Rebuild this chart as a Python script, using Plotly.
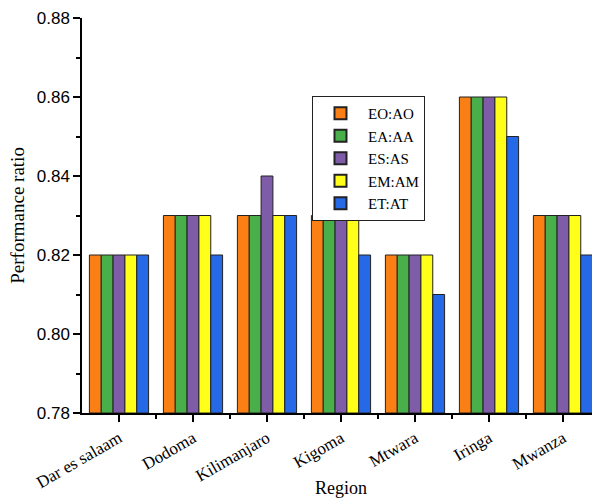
import plotly.graph_objects as go

regions = ["Dar es salaam", "Dodoma", "Kilimanjaro", "Kigoma", "Mtwara", "Iringa", "Mwanza"]
series_names = ["EO:AO", "EA:AA", "ES:AS", "EM:AM", "ET:AT"]
eo_ao = [0.82, 0.83, 0.83, 0.83, 0.82, 0.86, 0.83]
ea_aa = [0.82, 0.83, 0.83, 0.83, 0.82, 0.86, 0.83]
es_as = [0.82, 0.83, 0.84, 0.83, 0.82, 0.86, 0.83]
em_am = [0.82, 0.83, 0.83, 0.83, 0.82, 0.86, 0.83]
et_at = [0.82, 0.82, 0.83, 0.82, 0.81, 0.85, 0.82]
colors = ["#FA7F14", "#49AF4A", "#7F5CA8", "#FFFF1A", "#2569E6"]
baseline = 0.78

serif = "Liberation Serif"
sans = "Liberation Sans"

fig = go.Figure()
for name, vals, c in zip(series_names, [eo_ao, ea_aa, es_as, em_am, et_at], colors):
    fig.add_trace(go.Bar(
        name=name, x=regions, y=[v - baseline for v in vals], base=baseline,
        marker=dict(color=c, line=dict(color="#222222", width=1)),
    ))

fig.update_layout(
    width=592, height=491,
    margin=dict(l=74, r=0, t=10, b=86),
    plot_bgcolor="white", paper_bgcolor="white",
    barmode="group", bargap=0.2, bargroupgap=0,
    showlegend=True,
    legend=dict(
        x=0.444, y=0.8025, xanchor="left", yanchor="top",
        bordercolor="#222222", borderwidth=1, bgcolor="white",
        font=dict(family=serif, size=15, color="black"),
        tracegroupgap=0, itemsizing="constant", itemwidth=45,
    ),
    xaxis=dict(
        range=[-0.5, 6.5], automargin=False,
        showline=True, linecolor="black", linewidth=1.5,
        ticks="outside", ticklen=7, tickwidth=1.5, tickcolor="black",
        tickangle=-30,
        tickfont=dict(family=serif, size=17, color="black"),
        minor=dict(ticks="outside", ticklen=4, tickwidth=1.5, tickcolor="black",
                   tickmode="array", tickvals=[0.5, 1.5, 2.5, 3.5, 4.5, 5.5]),
        showgrid=False,
    ),
    yaxis=dict(
        range=[0.78, 0.88], automargin=False,
        showline=True, linecolor="black", linewidth=1.5,
        ticks="outside", ticklen=7, tickwidth=1.5, tickcolor="black",
        tickmode="array",
        tickvals=[0.78, 0.80, 0.82, 0.84, 0.86, 0.88],
        ticktext=["0.78", "0.80", "0.82", "0.84", "0.86", "0.88"],
        tickfont=dict(family=sans, size=17, color="black"),
        minor=dict(ticks="outside", ticklen=4, tickwidth=1.5, tickcolor="black",
                   tickmode="array", tickvals=[0.79, 0.81, 0.83, 0.85, 0.87]),
        showgrid=False, zeroline=False,
    ),
    annotations=[
        dict(text="Region", xref="paper", yref="paper", x=0.5, y=-0.19,
             xanchor="center", yanchor="middle", showarrow=False,
             font=dict(family=serif, size=18, color="black")),
        dict(text="Performance ratio", xref="paper", yref="paper", x=-0.125, y=0.5,
             xanchor="center", yanchor="middle", textangle=-90, showarrow=False,
             font=dict(family=serif, size=19, color="black")),
    ],
)

fig.write_html("out.html")
